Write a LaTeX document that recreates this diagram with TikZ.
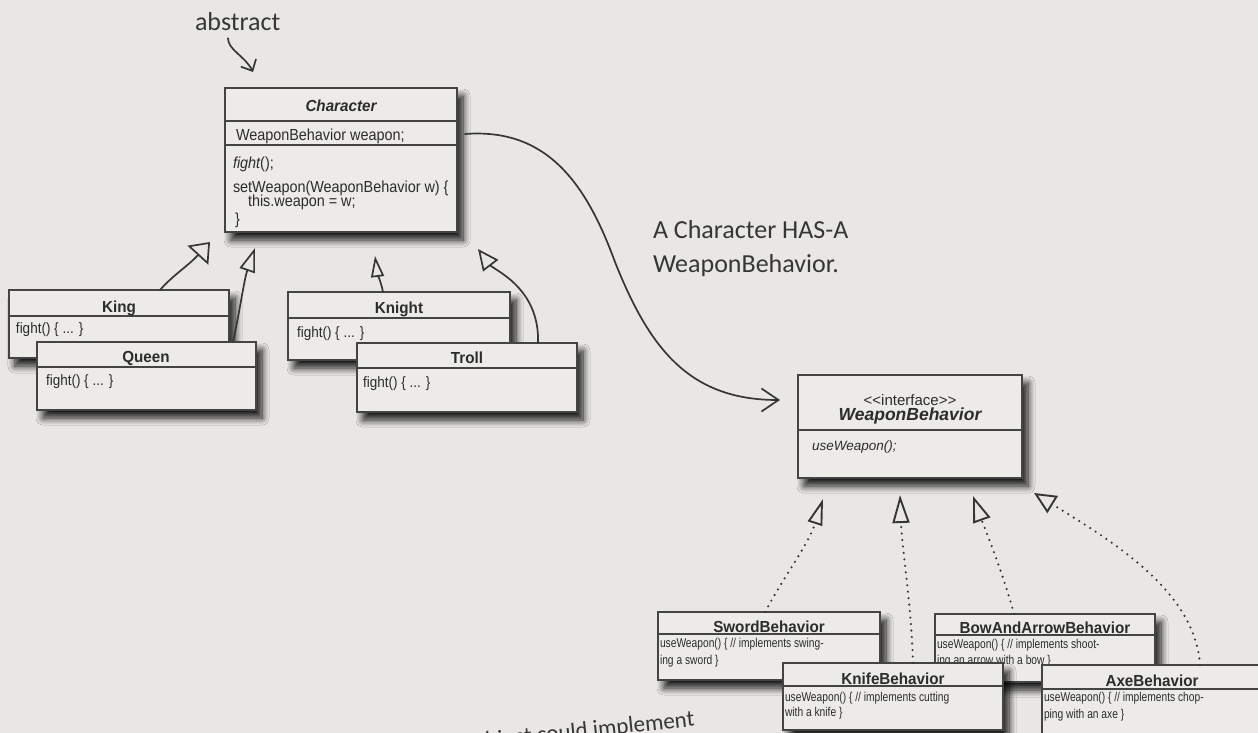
\documentclass[tikz,border=0pt]{standalone}
\usepackage{fontspec}
\usetikzlibrary{arrows.meta,calc,shadows.blur}
\newfontfamily\uml{Liberation Sans}
\newfontfamily\umlb[FakeStretch=0.9]{Liberation Sans}
\newfontfamily\umls[FakeStretch=0.8]{Liberation Sans}
\newfontfamily\umlt[FakeStretch=0.95]{Liberation Sans}
\newfontfamily\hand{Carlito}
\definecolor{bgc}{HTML}{E8E7E4}
\definecolor{boxf}{HTML}{ECEBE8}
\definecolor{boxc}{HTML}{444444}
\definecolor{txtc}{HTML}{2C2C2C}
\definecolor{penc}{HTML}{363636}
\tikzset{
  cls/.style={draw=boxc, line width=1.6pt, fill=boxf, inner sep=0pt, outer sep=0pt, anchor=north west,
    blur shadow={shadow xshift=6pt, shadow yshift=-8pt, shadow blur radius=7pt, shadow blur steps=12, shadow opacity=90}},
  dvd/.style={draw=boxc, line width=1.5pt},
  txt/.style={inner sep=0pt, outer sep=0pt, anchor=base west, text=txtc},
  ttl/.style={txt, anchor=base, font=\umlt\bfseries\fontsize{16}{19}\selectfont},
  bdc/.style={txt, font=\umlb\fontsize{16}{19}\selectfont},
  bdk/.style={txt, font=\umlb\fontsize{15}{18}\selectfont},
  bds/.style={txt, font=\umls\fontsize{12.8}{15}\selectfont},
  handtxt/.style={inner sep=0pt, outer sep=0pt, text=penc, font=\hand\fontsize{26}{30}\selectfont},
  pen/.style={draw=penc, line width=1.7pt, line cap=round, line join=round},
  dots/.style={draw=penc, line width=2.4pt, line cap=round, dash pattern=on 0pt off 6.5pt},
}
\begin{document}
\begin{tikzpicture}[x=1pt,y=-1pt]
\useasboundingbox (0,0) rectangle (1258,733);
\clip (0,0) rectangle (1258,733);
\fill[bgc] (0,0) rectangle (1258,733);

% ---------- Character ----------
\node[cls, minimum width=232pt, minimum height=144pt] (ch) at (225,88) {};
\draw[dvd] ($(ch.north west)+(0,33)$) -- ($(ch.north east)+(0,33)$);
\draw[dvd] ($(ch.north west)+(0,57)$) -- ($(ch.north east)+(0,57)$);
\node[ttl] (chT) at (341,112) {\itshape Character};
\node[bdc] (chA) at (236,140) {WeaponBehavior weapon;};
\node[bdc] (chF) at (233,168) {\itshape fight\upshape();};
\node[bdc] (chS) at (233,192) {setWeapon(WeaponBehavior w) \{};
\node[bdc] (chW) at (248,206) {this.weapon = w;};
\node[bdc] (chE) at (235,224) {\}};

% ---------- King / Queen ----------
\node[cls, minimum width=220pt, minimum height=68pt] (king) at (9,290) {};
\draw[dvd] ($(king.north west)+(0,26)$) -- ($(king.north east)+(0,26)$);
\node[ttl] (kingT) at (119,312) {King};
\node[bdk] (kingB) at (16,333) {fight() \{ ... \}};

\node[cls, minimum width=219pt, minimum height=68pt] (queen) at (37,342) {};
\draw[dvd] ($(queen.north west)+(0,25)$) -- ($(queen.north east)+(0,25)$);
\node[ttl] (queenT) at (146,362) {Queen};
\node[bdk] (queenB) at (46,385) {fight() \{ ... \}};

% ---------- Knight / Troll ----------
\node[cls, minimum width=222pt, minimum height=68pt] (knight) at (288,292) {};
\draw[dvd] ($(knight.north west)+(0,26)$) -- ($(knight.north east)+(0,26)$);
\node[ttl] (knightT) at (399,313) {Knight};
\node[bdk] (knightB) at (297,337) {fight() \{ ... \}};

\node[cls, minimum width=220pt, minimum height=69pt] (troll) at (357,343) {};
\draw[dvd] ($(troll.north west)+(0,25)$) -- ($(troll.north east)+(0,25)$);
\node[ttl] (trollT) at (467,363) {Troll};
\node[bdk] (trollB) at (363,387) {fight() \{ ... \}};

% ---------- WeaponBehavior ----------
\node[cls, minimum width=224pt, minimum height=103pt] (wb) at (798,375) {};
\draw[dvd] ($(wb.north west)+(0,55)$) -- ($(wb.north east)+(0,55)$);
\node[txt, anchor=base, font=\uml\fontsize{15}{18}\selectfont] (wbI) at (910,405) {<\kern0pt<interface>\kern0pt>};
\node[txt, anchor=base, font=\uml\bfseries\itshape\fontsize{17.5}{20}\selectfont] (wbT) at (910,420) {WeaponBehavior};
\node[txt, font=\uml\itshape\fontsize{13.5}{16}\selectfont] (wbB) at (812,450) {useWeapon();};

% ---------- Behaviours ----------
\node[cls, minimum width=222pt, minimum height=68pt] (sword) at (658,612) {};
\draw[dvd] ($(sword.north west)+(0,22)$) -- ($(sword.north east)+(0,22)$);
\node[ttl] (swordT) at (769,632) {SwordBehavior};
\node[bds] (swordB1) at (660,647) {useWeapon() \{ // implements swing-};
\node[bds] (swordB2) at (660,664) {ing a sword \}};

\node[cls, minimum width=220pt, minimum height=68pt] (bow) at (935,614) {};
\draw[dvd] ($(bow.north west)+(0,21)$) -- ($(bow.north east)+(0,21)$);
\node[ttl] (bowT) at (1045,633) {BowAndArrowBehavior};
\node[bds] (bowB1) at (937,648) {useWeapon() \{ // implements shoot-};
\node[bds] (bowB2) at (937,664) {ing an arrow with a bow \}};

\node[cls, minimum width=220pt, minimum height=67pt] (knife) at (783,663) {};
\draw[dvd] ($(knife.north west)+(0,23)$) -- ($(knife.north east)+(0,23)$);
\node[ttl] (knifeT) at (893,684) {KnifeBehavior};
\node[bds] (knifeB1) at (785,701) {useWeapon() \{ // implements cutting};
\node[bds] (knifeB2) at (785,716) {with a knife \}};

\node[cls, minimum width=220pt, minimum height=70pt] (axe) at (1042,665) {};
\draw[dvd] ($(axe.north west)+(0,24)$) -- ($(axe.north east)+(0,24)$);
\node[ttl] (axeT) at (1152,686) {AxeBehavior};
\node[bds] (axeB1) at (1044,701) {useWeapon() \{ // implements chop-};
\node[bds] (axeB2) at (1044,718) {ping with an axe \}};

% ---------- handwritten notes ----------
\node[handtxt, anchor=base west] (abs) at (195,31) {abstract};
\node[handtxt, anchor=base west] (has1) at (653,238) {A Character HAS-A};
\node[handtxt, anchor=base west] (has2) at (653,272) {WeaponBehavior.};
\node[handtxt, anchor=base east, rotate=6, font=\hand\fontsize{23}{26}\selectfont] (note) at (695,726) {object could implement};

% ---------- arrow tip coordinates ----------
\coordinate (abstip) at ($(ch.north west)+(28,-16)$);
\coordinate (kingtip) at (210,242);
\coordinate (queentip) at (255,248);
\coordinate (knighttip) at (375,256);
\coordinate (trolltip) at (478,249);
\coordinate (hastip) at ($(wb.north west)+(-18,25)$);
\coordinate (swordtip) at (823,499);
\coordinate (knifetip) at (900,495);
\coordinate (bowtip) at (973,496);
\coordinate (axetip) at (1034,493);

% ---------- connectors ----------
\draw[pen, -{Straight Barb[length=9pt, width=17pt, line width=1.7pt]}]
  ($(abs.south west)+(33,7)$) .. controls (228,50) and (245,56) .. (abstip);

\draw[pen, -{Triangle[open, length=18pt, width=28pt, line width=1.7pt]}]
  ($(king.north west)+(151,0)$) .. controls (172,276) and (188,266) .. (kingtip);
\draw[pen, -{Triangle[open, length=24pt, width=16pt, line width=1.7pt]}]
  ($(queen.north west)+(196,0)$) .. controls (240,310) and (244,280) .. (queentip);
\draw[pen, -{Triangle[open, length=21pt, width=13pt, line width=1.7pt]}]
  ($(knight.north west)+(95,0)$) .. controls (381,282) and (377,272) .. (knighttip);
\draw[pen, -{Triangle[open, length=21pt, width=19pt, line width=1.7pt]}]
  ($(troll.north west)+(181,0)$) .. controls (540,288) and (494,270) .. (trolltip);

\draw[pen, -{Straight Barb[length=17pt, width=23pt, line width=1.7pt]}]
  ($(ch.north east)+(8,46)$) .. controls (545,128) and (585,180) .. (615,262)
  .. controls (650,350) and (690,400) .. (hastip);

\draw[dots, -{Triangle[open, length=26pt, width=15pt, line width=1.9pt, line cap=round]}]
  ($(sword.north west)+(107,0)$) .. controls (788,570) and (808,545) .. (swordtip);
\draw[dots, -{Triangle[open, length=28pt, width=17pt, line width=1.9pt, line cap=round]}]
  ($(knife.north west)+(130,0)$) .. controls (911,600) and (902,550) .. (knifetip);
\draw[dots, -{Triangle[open, length=26pt, width=18pt, line width=1.9pt, line cap=round]}]
  ($(bow.north west)+(79,0)$) .. controls (1002,570) and (986,532) .. (bowtip);
\draw[dots, -{Triangle[open, length=22pt, width=20pt, line width=1.9pt, line cap=round]}]
  ($(axe.north west)+(158,0)$) .. controls (1195,590) and (1110,540) .. (axetip);
\end{tikzpicture}
\end{document}
